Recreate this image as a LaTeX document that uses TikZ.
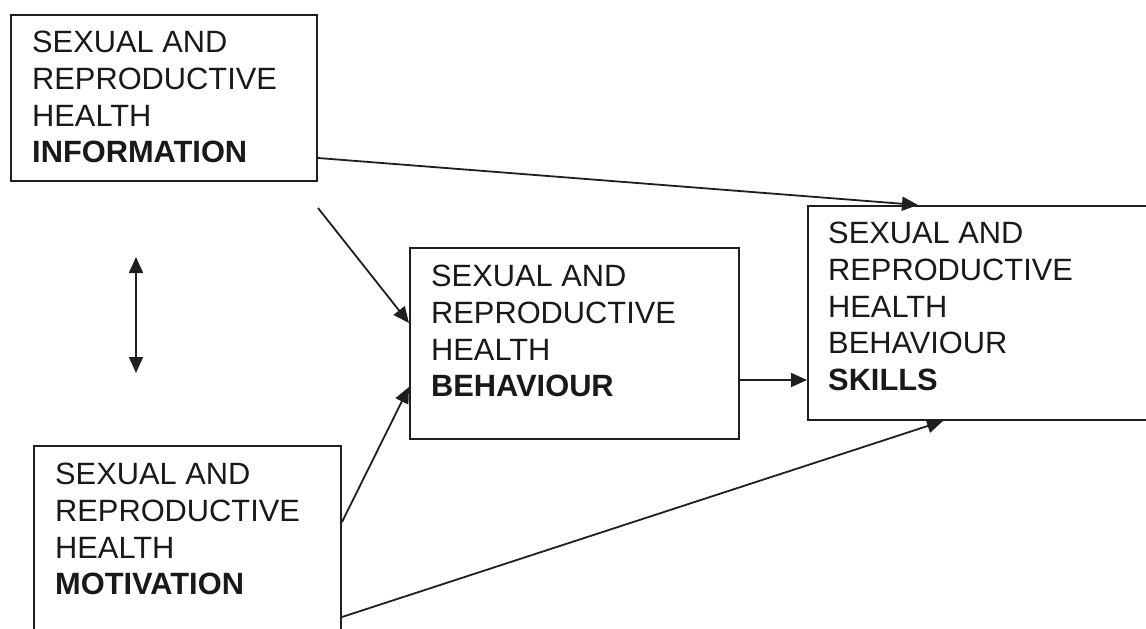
\documentclass[tikz,border=0pt]{standalone}
\usepackage{fontspec}
\setmainfont{Liberation Sans}
\usetikzlibrary{arrows.meta}
\begin{document}
\begin{tikzpicture}[x=1pt,y=-1pt,
  box/.style={draw=black!88, line width=2pt, anchor=north west, inner sep=0pt},
  txt/.style={anchor=north west, inner sep=0pt, align=left,
    font=\fontsize{30.8pt}{36.7pt}\selectfont, text=black!90},
  tip/.style={},
  link/.style={draw=black!88, line width=1.8pt, -{Triangle[length=16pt,width=14pt]}},
  twoway/.style={draw=black!88, line width=1.8pt, {Triangle[length=16pt,width=14pt]}-{Triangle[length=16pt,width=14pt]}}]
\clip (0,0) rectangle (1146,629);
\fill[white] (0,0) rectangle (1146,629);

% boxes
\node[box, minimum width=306pt, minimum height=166pt] (info) at (10,14) {};
\node[box, minimum width=307pt, minimum height=210pt] (motiv) at (33,445) {};
\node[box, minimum width=329pt, minimum height=191pt] (behav) at (409,247) {};
\node[box, minimum width=360pt, minimum height=214pt] (skill) at (807,205) {};

% box texts (top of capitals 22pt above first baseline)
\node[txt] (infotxt) at (32,31) {SEXUAL AND\\REPRODUCTIVE\\HEALTH\\\textbf{INFORMATION}};
\node[txt] (motivtxt) at (55,463) {SEXUAL AND\\REPRODUCTIVE\\HEALTH\\\textbf{MOTIVATION}};
\node[txt] (behavtxt) at (431,265) {SEXUAL AND\\REPRODUCTIVE\\HEALTH\\\textbf{BEHAVIOUR}};
\node[txt] (skilltxt) at (828,222) {SEXUAL AND\\REPRODUCTIVE\\HEALTH\\BEHAVIOUR\\\textbf{SKILLS}};

% connectors
\draw[link] ([yshift=-144pt]info.north east) -- ([xshift=111pt]skill.north west);
\draw[link] ([yshift=-26pt]info.south east) -- ([yshift=-76pt]behav.north west);
\draw[link] ([yshift=-77pt]motiv.north east) -- ([yshift=-140pt]behav.north west);
\draw[link] ([yshift=-172pt]motiv.north east) -- ([xshift=136pt]skill.south west);
\draw[link] ([yshift=-133pt]behav.north east) -- ([yshift=-175pt]skill.north west);

% mutual influence between information and motivation
\coordinate (upper) at (136,257);
\coordinate (lower) at (136,373);
\draw[twoway] (upper) -- (lower);
\end{tikzpicture}
\end{document}
